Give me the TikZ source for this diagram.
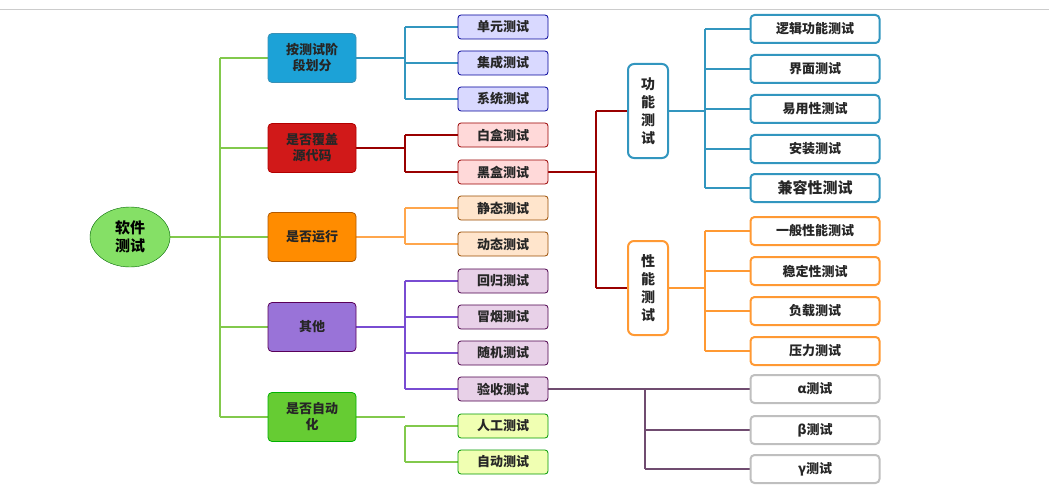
\documentclass[tikz,border=0pt]{standalone}
\usepackage{fontspec}
\setmainfont{Noto Sans CJK SC}
\usetikzlibrary{shapes.geometric}
\pgfdeclarelayer{bg}\pgfsetlayers{bg,main}
\begin{document}
\begin{tikzpicture}[x=1pt,y=-1pt,
 cat/.style={rounded corners=4pt,minimum width=88pt,minimum height=49pt,align=center,font=\bfseries\fontsize{13}{16}\selectfont,draw=#1!70!black,line width=0.8pt,text=black!85},
 leaf/.style={rounded corners=3pt,minimum width=90pt,minimum height=24pt,font=\bfseries\fontsize{13}{15}\selectfont,draw=#1!60!black,line width=0.8pt,text=black!85},
 wl/.style={rounded corners=4pt,minimum width=129pt,minimum height=28pt,font=\bfseries\fontsize{13}{15}\selectfont,draw=#1,line width=2pt,fill=white,text=black!85},
 vb/.style={rounded corners=6pt,minimum width=40pt,minimum height=94pt,align=center,font=\bfseries\fontsize{14}{18}\selectfont,draw=#1,line width=2pt,fill=white,text=black!85},
 ln/.style={line width=1.6pt,draw=#1}]
\useasboundingbox (0,0) rectangle (1049,500);
\draw[gray!40,line width=1pt] (0,10) -- (1049,10);
\colorlet{cy}{cyan!50!teal}
\colorlet{gl}{green!40!olive!70}
\node[ellipse,draw=green!40!black,fill=green!60!olive!60,minimum width=80pt,minimum height=60pt,align=center,font=\bfseries\fontsize{15}{18}\selectfont] (root) at (130,237) {软件\\测试};
\coordinate (t0) at (220,58); \coordinate (t1) at (220,417); \coordinate (tr) at (220,237);
\node[cat=cyan,fill=cyan!75!teal] (c1) at (312,58) {按测试阶\\段划分};
\node[cat=red,fill=red!80!black!90] (c2) at (312,148) {是否覆盖\\源代码};
\node[cat=orange,fill=orange!90!yellow] (c3) at (312,237) {是否运行};
\node[cat=violet,fill=violet!55!blue!55] (c4) at (312,327) {其他};
\node[cat=green,fill=green!50!olive!80] (c5) at (312,417) {是否自动\\化};
\node[leaf=blue,fill=blue!15] (l1) at (503,27) {单元测试};
\node[leaf=blue,fill=blue!15] (l2) at (503,63) {集成测试};
\node[leaf=blue,fill=blue!15] (l3) at (503,99) {系统测试};
\node[leaf=red,fill=red!15] (l4) at (503,135) {白盒测试};
\node[leaf=red,fill=red!15] (l5) at (503,172) {黑盒测试};
\node[leaf=orange,fill=orange!20] (l6) at (503,208) {静态测试};
\node[leaf=orange,fill=orange!20] (l7) at (503,244) {动态测试};
\node[leaf=violet,fill=violet!18] (l8) at (503,281) {回归测试};
\node[leaf=violet,fill=violet!18] (l9) at (503,317) {冒烟测试};
\node[leaf=violet,fill=violet!18] (l10) at (503,353) {随机测试};
\node[leaf=violet,fill=violet!18] (l11) at (503,389) {验收测试};
\node[leaf=green,fill=green!20!yellow!30] (l12) at (503,426) {人工测试};
\node[leaf=green,fill=green!20!yellow!30] (l13) at (503,462) {自动测试};
\node[vb=cy] (f) at (648,111) {功\\能\\测\\试};
\node[vb=orange!80] (p) at (648,288) {性\\能\\测\\试};
\node[wl=cy] (f1) at (815,29) {逻辑功能测试};
\node[wl=cy] (f2) at (815,69) {界面测试};
\node[wl=cy] (f3) at (815,109) {易用性测试};
\node[wl=cy] (f4) at (815,149) {安装测试};
\node[wl=cy] (f5) at (815,188) {\fontsize{15}{17}\selectfont 兼容性测试};
\node[wl=orange!80] (p1) at (815,231) {一般性能测试};
\node[wl=orange!80] (p2) at (815,271) {稳定性测试};
\node[wl=orange!80] (p3) at (815,311) {负载测试};
\node[wl=orange!80] (p4) at (815,351) {压力测试};
\node[wl=gray!50] (g1) at (815,389) {α测试};
\node[wl=gray!50] (g2) at (815,430) {β测试};
\node[wl=gray!50] (g3) at (815,469) {γ测试};
\begin{pgfonlayer}{bg}
\draw[ln=gl] (root.east) -- (tr);
\draw[ln=gl] (t0) -- (t1);
\foreach \c in {c1,c2,c3,c4,c5} \draw[ln=gl] (\c.west -| t0) -- (\c.west);
\draw[ln=cy] (c1.east) -- (405,58) (405,27) -- (405,99);
\foreach \l in {l1,l2,l3} \draw[ln=cy] (405,0 |- \l.west) -- (\l.west);
\draw[ln=red!60!black] (c2.east) -- (405,148) (405,135) -- (405,172);
\foreach \l in {l4,l5} \draw[ln=red!60!black] (405,0 |- \l.west) -- (\l.west);
\draw[ln=orange!70] (c3.east) -- (405,237) (405,208) -- (405,244);
\foreach \l in {l6,l7} \draw[ln=orange!70] (405,0 |- \l.west) -- (\l.west);
\draw[ln=violet!50!blue!70] (c4.east) -- (405,327) (405,281) -- (405,389);
\foreach \l in {l8,l9,l10,l11} \draw[ln=violet!50!blue!70] (405,0 |- \l.west) -- (\l.west);
\draw[ln=gl] (c5.east) -- (405,417) (405,426) -- (405,462);
\foreach \l in {l12,l13} \draw[ln=gl] (405,0 |- \l.west) -- (\l.west);
\draw[ln=red!60!black] (l5.east) -- (596,172) (596,111) -- (596,288) (596,111) -- (f.west) (596,288) -- (p.west);
\draw[ln=cy] (f.east) -- (705,111) (705,29) -- (705,188);
\foreach \l in {f1,f2,f3,f4,f5} \draw[ln=cy] (705,0 |- \l.west) -- (\l.west);
\draw[ln=orange!80] (p.east) -- (705,288) (705,231) -- (705,351);
\foreach \l in {p1,p2,p3,p4} \draw[ln=orange!80] (705,0 |- \l.west) -- (\l.west);
\draw[ln=violet!40!black!70] (l11.east) -- (g1.west) (645,389) -- (645,469);
\foreach \l in {g2,g3} \draw[ln=violet!40!black!70] (645,0 |- \l.west) -- (\l.west);
\end{pgfonlayer}
\end{tikzpicture}
\end{document}
